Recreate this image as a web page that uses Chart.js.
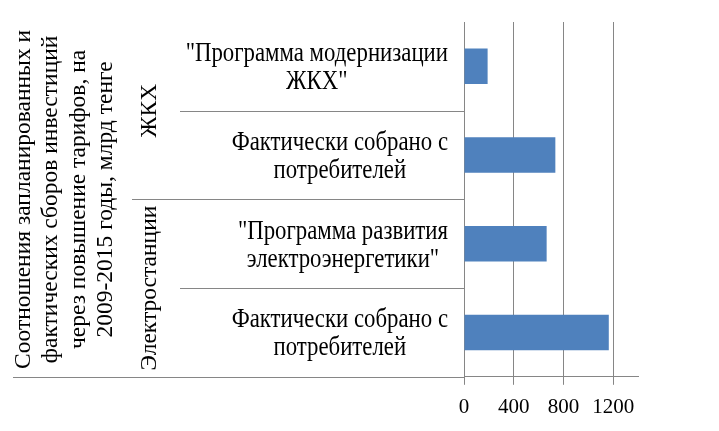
<!DOCTYPE html>
<html>
<head>
<meta charset="utf-8">
<script src="https://cdn.jsdelivr.net/npm/chart.js@4.4.1/dist/chart.umd.min.js"></script>
<style>
  body { margin: 0; background: #fff; }
  canvas { display: block; }
</style>
</head>
<body>
<canvas id="chart" width="719" height="431"></canvas>
<script>
// data
const axis_title = [
    "Соотношения запланированных и",
    "фактических сборов инвестиций",
    "через повышение тарифов, на",
    "2009-2015 годы, млрд тенге"
];
const groups = ["ЖКХ", "Электростанции"];
const group_of = [0, 0, 1, 1];
const categories = [
    ["\"Программа модернизации", "ЖКХ\""],
    ["Фактически собрано с", "потребителей"],
    ["\"Программа развития", "электроэнергетики\""],
    ["Фактически собрано с", "потребителей"]
];
const values = [190, 735, 665, 1165];
const tick_values = [0, 400, 800, 1200];

const FONT = "Liberation Serif";
const LINE = "#868686";

const labels_plugin = {
    id: "labels_plugin",
    afterDraw(chart) {
        var ctx = chart.ctx;
        var area = chart.chartArea;
        var y = chart.scales.y;
        ctx.save();
        ctx.fillStyle = "#000";
        ctx.strokeStyle = LINE;
        ctx.lineWidth = 1;

        // separators of the category axis
        var count = categories.length;
        for (var i = 1; i < count; i++) {
            var yb = Math.round((y.getPixelForValue(i - 1) + y.getPixelForValue(i)) / 2) + 0.5;
            var x0 = group_of[i] != group_of[i - 1] ? 132 : 180;
            ctx.beginPath();
            ctx.moveTo(x0, yb);
            ctx.lineTo(area.left, yb);
            ctx.stroke();
        }
        var yb = Math.round(area.bottom) + 0.5;
        ctx.beginPath();
        ctx.moveTo(13, yb);
        ctx.lineTo(area.left, yb);
        ctx.stroke();

        // inner category labels, block right aligned, lines centred
        ctx.font = "22.8px '" + FONT + "'";
        ctx.textAlign = "center";
        ctx.textBaseline = "middle";
        var right = 448;
        var lh = 28;
        for (var i = 0; i < count; i++) {
            var lines = categories[i];
            var w = 0;
            for (var j = 0; j < lines.length; j++) {
                w = Math.max(w, ctx.measureText(lines[j]).width);
            }
            var cx = right - w / 2;
            var cy = y.getPixelForValue(i) + 2;
            var top = cy - lh * (lines.length - 1) / 2;
            for (var j = 0; j < lines.length; j++) {
                ctx.save();
                ctx.translate(cx, top + j * lh);
                ctx.scale(1, 1.17);
                ctx.fillText(lines[j], 0, 0);
                ctx.restore();
            }
        }

        // group labels and axis title, rotated
        ctx.font = "23.5px '" + FONT + "'";
        for (var g = 0; g < groups.length; g++) {
            var first = group_of.indexOf(g);
            var last = group_of.lastIndexOf(g);
            var gy = (y.getPixelForValue(first) + y.getPixelForValue(last)) / 2;
            ctx.save();
            ctx.translate(150, gy);
            ctx.rotate(-Math.PI / 2);
            ctx.fillText(groups[g], 0, 0);
            ctx.restore();
        }

        var ty = (area.top + area.bottom) / 2;
        for (var k = 0; k < axis_title.length; k++) {
            ctx.save();
            ctx.translate(24 + k * 27.3, ty);
            ctx.rotate(-Math.PI / 2);
            ctx.fillText(axis_title[k], 0, 0);
            ctx.restore();
        }
        ctx.restore();
    }
};

var canvas = document.getElementById("chart").getContext("2d");
new Chart(canvas, {
    type: "bar",
    data: {
        labels: categories,
        datasets: [{
            data: values,
            backgroundColor: "#4F81BD",
            categoryPercentage: 1,
            barPercentage: 0.4
        }]
    },
    options: {
        indexAxis: "y",
        responsive: false,
        animation: false,
        layout: { padding: { left: 464, right: 81, top: 22, bottom: 1 } },
        plugins: {
            legend: { display: false },
            tooltip: { enabled: false }
        },
        scales: {
            x: {
                min: 0,
                max: 1400,
                afterBuildTicks: function(axis) {
                    axis.ticks = tick_values.map(function(v) { return { value: v }; });
                },
                grid: { color: LINE, tickLength: 8, lineWidth: 1 },
                border: { color: LINE },
                ticks: {
                    color: "#000",
                    padding: 10,
                    maxRotation: 0,
                    font: { family: FONT, size: 21 },
                    callback: function(value) { return String(value); }
                }
            },
            y: {
                ticks: { display: false },
                grid: { display: false, drawTicks: false },
                border: { display: false }
            }
        }
    },
    plugins: [labels_plugin]
});
</script>
</body>
</html>
